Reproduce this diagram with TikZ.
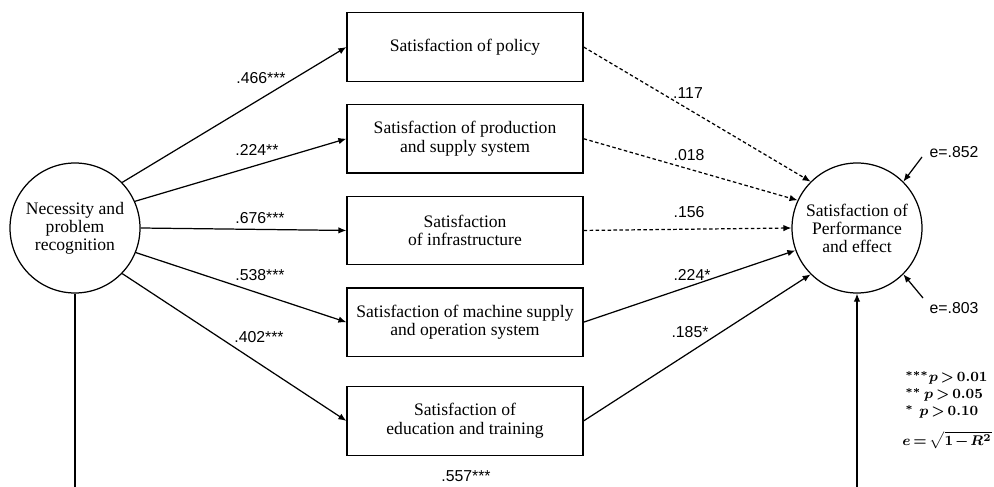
\documentclass[tikz,border=0pt]{standalone}
\usepackage{amsmath}
\usepackage{fontspec}
\setmainfont{Liberation Serif}
\newfontfamily\lblfont{Liberation Sans}
\usepackage{tikz}
\usetikzlibrary{positioning, arrows.meta, calc}
\newcommand{\lgd}[1]{$\thickmuskip=3mu\medmuskip=2mu #1$}

\begin{document}
\begin{tikzpicture}[
  box/.style={draw, line width=0.7pt, minimum width=4.72cm, minimum height=1.37cm,
              align=center, font=\fontsize{10}{10.5}\selectfont, inner sep=2pt},
  latent/.style={draw, circle, line width=0.7pt, minimum size=2.6cm, inner sep=0pt,
              align=center, font=\fontsize{10}{10.3}\selectfont},
  lbl/.style={font=\lblfont\fontsize{9}{10}\selectfont, inner sep=1pt},
  legend/.style={inner sep=0pt, font=\fontsize{8}{9.6}\selectfont\boldmath},
  arr/.style={-{Latex[length=1.6mm, width=1.3mm]}, line width=0.7pt},
  dsh/.style={arr, dash pattern=on 2pt off 1.4pt},
  node distance=0.44cm]
  \useasboundingbox (0,0) rectangle (19.88,9.72);
  \clip (0,0) rectangle (19.88,9.72);
  % latent variables
  \node[latent] (nec) at (1.50,5.16) {Necessity and\\problem\\recognition};
  \node[latent] (perf) at (17.14,5.16) {Satisfaction of\\Performance\\and effect};
  % mediators
  \node[box] (pol) at (9.30,8.78) {Satisfaction of policy};
  \node[box, below=of pol] (prod) {Satisfaction of production\\and supply system};
  \node[box, below=of prod] (inf) {Satisfaction\\of infrastructure};
  \node[box, below=of inf] (mach) {Satisfaction of machine supply\\and operation system};
  \node[box, below=0.58cm of mach] (edu) {Satisfaction of\\education and training};
  % paths from necessity
  \draw[arr] (nec.44) -- (pol.west);
  \draw[arr] (nec.24) -- (prod.west);
  \draw[arr] (nec.east) -- (inf.west);
  \draw[arr] (nec.-22) -- (mach.west);
  \draw[arr] (nec.-44) -- (edu.west);
  \node[lbl] (w1) at (5.22,8.16) {.466***};
  \node[lbl] (w2) at (5.14,6.72) {.224**};
  \node[lbl] (w3) at (5.20,5.36) {.676***};
  \node[lbl] (w4) at (5.20,4.22) {.538***};
  \node[lbl] (w5) at (5.18,2.98) {.402***};
  % paths to performance
  \draw[dsh] (pol.east) -- (perf.135);
  \draw[dsh] (prod.east) -- (perf.155);
  \draw[dsh] (inf.east) -- (perf.west);
  \draw[arr] (mach.east) -- (perf.200);
  \draw[arr] (edu.east) -- (perf.225);
  \node[lbl] (v1) at (13.76,7.86) {.117};
  \node[lbl] (v2) at (13.78,6.62) {.018};
  \node[lbl] (v3) at (13.78,5.48) {.156};
  \node[lbl] (v4) at (13.84,4.22) {.224*};
  \node[lbl] (v5) at (13.80,3.08) {.185*};
  % direct effect
  \draw[arr] (nec.south) -- ++(0,-3.98) -| node[lbl, pos=0.25, above=5pt] (w6) {.557***} (perf.south);
  % errors
  \coordinate (e1s) at (18.44,6.58);
  \coordinate (e2s) at (18.46,3.76);
  \draw[arr] (e1s) -- (perf.45);
  \draw[arr] (e2s) -- (perf.-45);
  \node[lbl] (e1) at (19.08,6.68) {e=.852};
  \node[lbl] (e2) at (19.08,3.56) {e=.803};
  % legend
  \node[legend, anchor=north west, align=left] (sig) at (18.10,2.30)
        {\lgd{^{***}p>0.01}\\\lgd{^{**}\,p>0.05}\\\lgd{^{*}\;\;p>0.10}};
  \node[legend, anchor=east] (eq) at (19.84,0.92) {\lgd{e=\sqrt{1-R^2}}};
\end{tikzpicture}
\end{document}
